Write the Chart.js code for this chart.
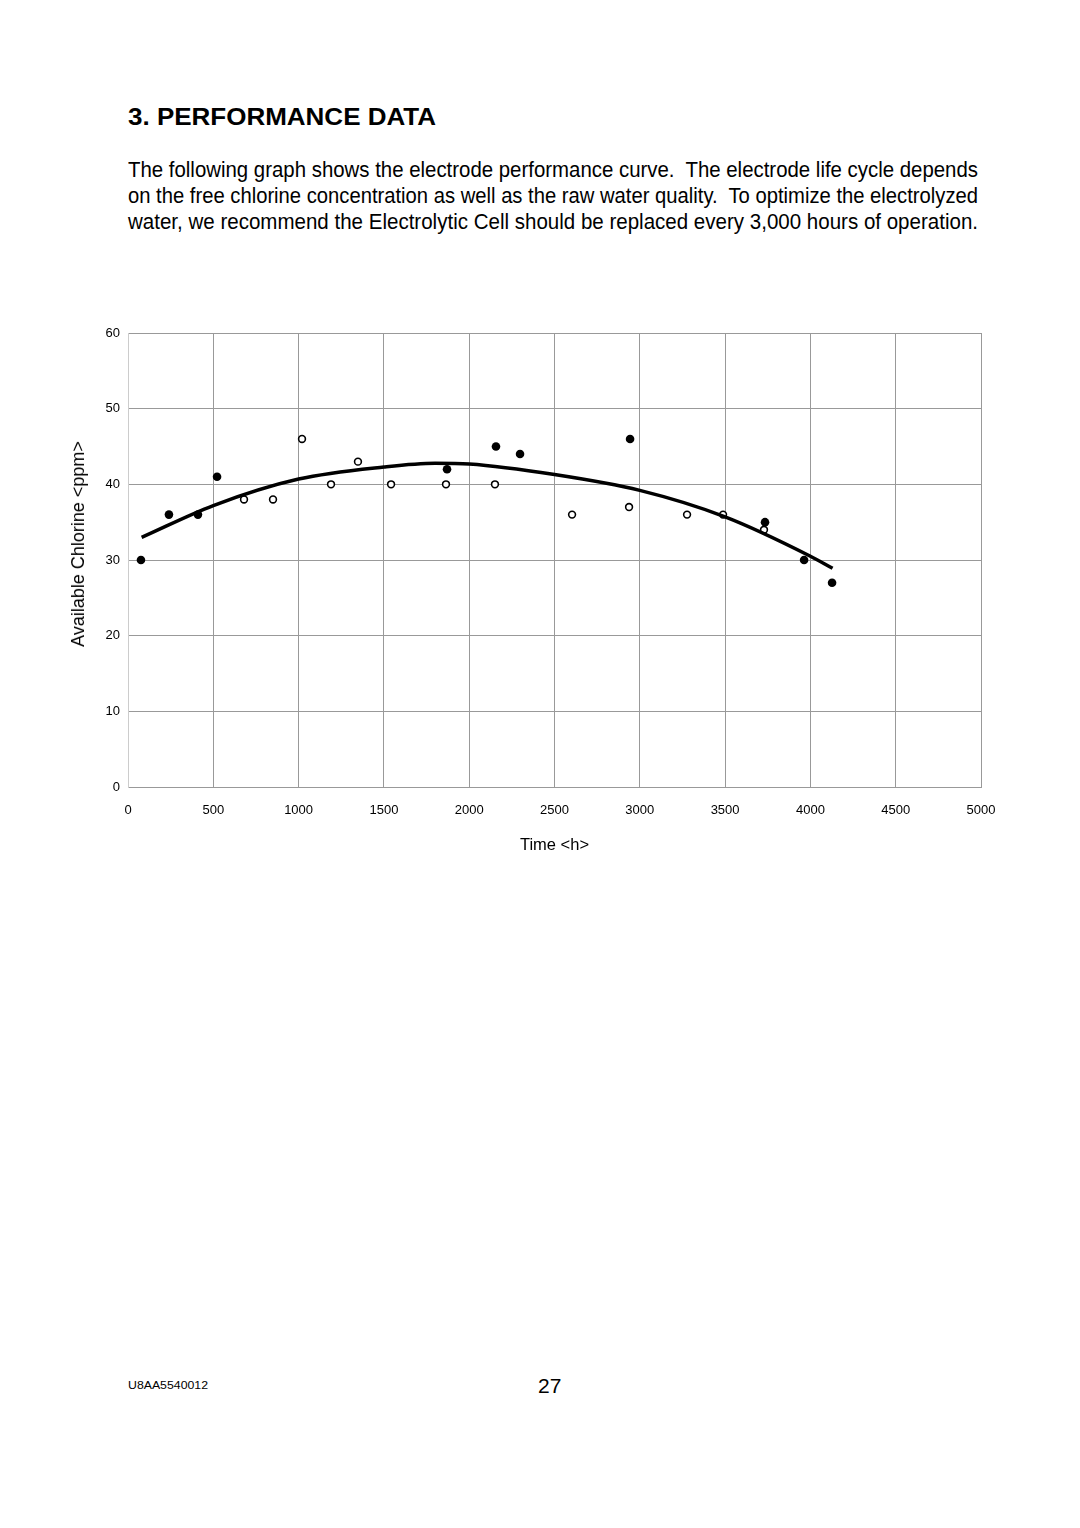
<!DOCTYPE html>
<html><head><meta charset="utf-8">
<script src="https://cdn.jsdelivr.net/npm/chart.js@4.4.1/dist/chart.umd.min.js"></script>
<style>
body{margin:0;background:#fff;width:1080px;height:1528px;position:relative;overflow:hidden;font-family:"Liberation Sans",Arial,sans-serif;color:#000}
.t{position:absolute;left:128px;white-space:nowrap;transform-origin:0 0;line-height:1}
#wrap{position:absolute;left:0;top:0;width:1080px;height:900px}
#ytitle{position:absolute;left:78px;top:544px;white-space:nowrap;font-size:18px;line-height:1;transform:translate(-50%,-50%) rotate(-90deg)}
</style></head><body>
<div class="t fit" data-w="308" style="top:104.5px;font-size:24px;font-weight:bold">3. PERFORMANCE DATA</div>
<div class="t fit" data-w="850" style="top:159px;font-size:22px">The following graph shows the electrode performance curve.&nbsp; The electrode life cycle depends</div>
<div class="t fit" data-w="850" style="top:185px;font-size:22px">on the free chlorine concentration as well as the raw water quality.&nbsp; To optimize the electrolyzed</div>
<div class="t fit" data-w="850" style="top:211px;font-size:22px">water, we recommend the Electrolytic Cell should be replaced every 3,000 hours of operation.</div>
<div id="wrap"><canvas id="c" width="1080" height="900"></canvas></div>
<div id="ytitle">Available Chlorine &lt;ppm&gt;</div>
<div class="t fit" data-w="80" style="top:1380px;font-size:10.5px">U8AA5540012</div>
<div class="t" style="left:538px;top:1375px;font-size:21px">27</div>
<script>
document.querySelectorAll('.fit').forEach(el=>{
  const w=el.getBoundingClientRect().width;
  el.style.transform='scaleX('+(parseFloat(el.dataset.w)/w)+')';
});

// Data
const filledX = [76, 240, 410, 522, 1870, 2157, 2298, 2943, 3734, 3963, 4127];
const filledY = [30, 36, 36, 41, 42, 45, 44, 46, 35, 30, 27];
const openX = [680, 850, 1020, 1190, 1348, 1542, 1864, 2151, 2603, 2937, 3277, 3488, 3728];
const openY = [38, 38, 46, 40, 43, 40, 40, 40, 36, 37, 36, 36, 34];
const curveX = [80, 500, 1000, 1500, 1800, 2000, 2500, 3000, 3500, 4000, 4130];
const curveY = [33.0, 37.2, 40.7, 42.3, 42.8, 42.7, 41.3, 39.2, 35.7, 30.5, 28.9];
const xTicks = [0, 500, 1000, 1500, 2000, 2500, 3000, 3500, 4000, 4500, 5000];
const yTicks = [0, 10, 20, 30, 40, 50, 60];

const pts = (xs, ys) => xs.map((x, i) => ({x, y: ys[i]}));
const FONT = '"Liberation Sans", Arial, sans-serif';

new Chart(document.getElementById('c'), {
  type: 'scatter',
  data: {
    datasets: [
      {label: 'curve', type: 'line', data: pts(curveX, curveY), borderColor: '#000', borderWidth: 3.5,
       pointRadius: 0, tension: 0.4, cubicInterpolationMode: 'monotone', fill: false, order: 0},
      {label: 'filled', data: pts(filledX, filledY), pointRadius: 4.3, backgroundColor: '#000',
       borderColor: '#000', borderWidth: 0, order: 1},
      {label: 'open', data: pts(openX, openY), pointRadius: 3.4, backgroundColor: '#fff',
       borderColor: '#000', borderWidth: 1.6, order: 1}
    ]
  },
  options: {
    responsive: false, animation: false, devicePixelRatio: 1,
    layout: {padding: {left: 62, top: 333, right: 99, bottom: 43}},
    plugins: {legend: {display: false}, tooltip: {enabled: false}},
    scales: {
      x: {
        type: 'linear', min: 0, max: 5000,
        afterBuildTicks: s => { s.ticks = xTicks.map(v => ({value: v})); },
        afterFit: s => { s.height = 70; },
        ticks: {color: '#000', font: {family: FONT, size: 13}, padding: 16, maxRotation: 0,
                callback: v => String(v)},
        grid: {color: '#999', lineWidth: 1, drawTicks: false},
        border: {color: '#999'},
        title: {display: true, text: 'Time <h>', color: '#000', font: {family: FONT, size: 16.5}, padding: {top: 0, bottom: 2}}
      },
      y: {
        type: 'linear', min: 0, max: 60,
        afterBuildTicks: s => { s.ticks = yTicks.map(v => ({value: v})); },
        afterFit: s => { s.width = 66; },
        ticks: {color: '#000', font: {family: FONT, size: 13}, padding: 8, callback: v => String(v)},
        grid: {color: '#999', lineWidth: 1, drawTicks: false},
        border: {color: '#ccc'},
        title: {display: false}
      }
    }
  }
});
</script>
</body></html>
